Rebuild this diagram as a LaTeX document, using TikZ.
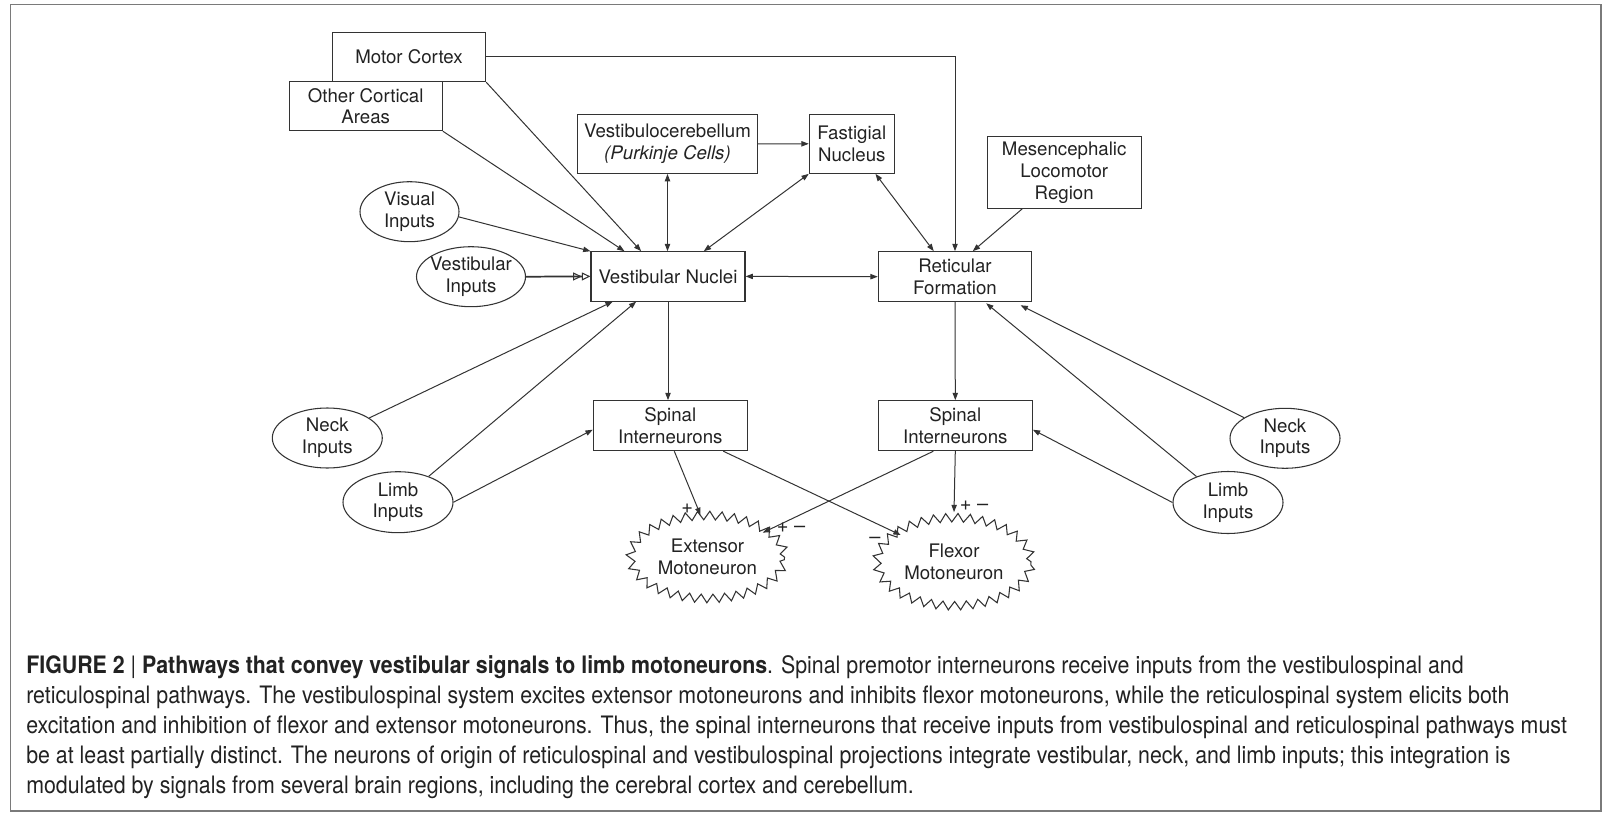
\documentclass[tikz,border=0pt]{standalone}
\usepackage{fontspec}
\setmainfont{TeX Gyre Heros}
\newfontfamily\capfont[FakeStretch=0.89]{TeX Gyre Heros}
\usetikzlibrary{arrows.meta,shapes.geometric,decorations.pathmorphing,calc}
\definecolor{ln}{HTML}{333333}
\definecolor{frm}{HTML}{7A7A7A}
\definecolor{tx}{HTML}{222222}
\tikzset{
  sz/.style 2 args={minimum width=#1*0.75pt, minimum height=#2*0.75pt},
  box/.style={draw=ln, line width=0.8pt, rectangle},
  oval/.style={draw=ln, line width=0.8pt, ellipse, inner sep=-6pt},
  burst/.style={draw=ln, line width=0.8pt, ellipse, decorate, decoration={zigzag, segment length=9pt, amplitude=3.2pt}},
  conn/.style={draw=ln, line width=0.75pt, -{Triangle[length=5.5pt,width=4pt]}},
  both/.style={draw=ln, line width=0.75pt, {Triangle[length=5.5pt,width=4pt]}-{Triangle[length=5.5pt,width=4pt]}},
  dbl/.style={draw=ln, line width=1.3pt, -{Triangle[open,length=6.5pt,width=6pt,line width=0.8pt]Triangle[open,length=6.5pt,width=6pt,line width=0.8pt]}},
  sign/.style={font=\fontsize{15}{15}\selectfont},
  captext/.style={font=\capfont\fontsize{18}{22}\selectfont, anchor=base west, align=left},
}
\begin{document}
\begin{tikzpicture}[x=0.75pt,y=-0.75pt,
  every node/.style={font=\fontsize{14}{16.3}\selectfont, text=tx, align=center, inner sep=0pt}]
\useasboundingbox (0,0) rectangle (1616,824);
\draw[frm, line width=1.2pt] (10.5,4.5) rectangle (1601,811);

% boxes
\node[box, sz={153.4}{49.4}] (mc) at (409,57) {Motor Cortex};
\node[box, sz={153.3}{49}] (oca) at (365.7,106.2) {Other Cortical\\Areas};
\node[box, sz={180}{59}] (vc) at (667.5,143.9) {Vestibulocerebellum\\\textit{(Purkinje Cells)}};
\node[box, sz={85}{59}] (fn) at (851.8,143.8) {Fastigial\\Nucleus};
\node[box, sz={153.7}{71.6}] (mlr) at (1064.2,172.5) {Mesencephalic\\Locomotor\\Region};
\node[box, sz={154}{49.3}] (vn) at (668,276.4) {Vestibular Nuclei};
\node[box, sz={153.4}{50}] (rf) at (955,276.7) {Reticular\\Formation};
\node[box, sz={154}{50}] (spl) at (670.3,425.7) {Spinal\\Interneurons};
\node[box, sz={154}{50}] (spr) at (955.3,425.7) {Spinal\\Interneurons};

% ovals
\node[oval, sz={99}{60}] (vis) at (409.5,211.7) {Visual\\Inputs};
\node[oval, sz={109}{60}] (vin) at (471,276.7) {Vestibular\\Inputs};
\node[oval, sz={110}{60}] (nl) at (327.3,438) {Neck\\Inputs};
\node[oval, sz={110}{61}] (ll) at (398,502.2) {Limb\\Inputs};
\node[oval, sz={110}{60}] (nr) at (1285,438.3) {Neck\\Inputs};
\node[oval, sz={110}{62}] (lr) at (1228,502.5) {Limb\\Inputs};

% motoneurons
\node[burst, sz={154}{83}] (ext) at (707.5,557) {Extensor\\Motoneuron};
\node[burst, sz={154}{88}] (flex) at (954,561.7) {Flexor\\Motoneuron};

% connectors
\draw[conn] (mc.south east) -- ($(vn.north west)+(50.7,0)$);
\draw[conn] (oca.south east) -- ($(vn.north west)+(34,0)$);
\draw[conn] (mc.east) -| (rf.north);
\draw[both] (vc.south) -- (vc.south |- vn.north);
\draw[conn] (vc.east) -- (fn.west);
\draw[both] (fn.south west) -- ($(vn.north west)+(113.3,0)$);
\draw[both] ($(fn.south west)+(66.7,0)$) -- ($(rf.north west)+(56,0)$);
\draw[conn] ($(mlr.south west)+(35.4,0)$) -- ($(rf.north west)+(95,0)$);
\draw[both] (vn.east) -- (rf.west);
\draw[conn] (vis.-6) -- (vn.north west);
\draw[dbl] (vin.east) -- (vn.west);
\draw[conn] (nl) -- ($(vn.south west)+(22.3,0)$);
\draw[conn] (ll) -- ($(vn.south west)+(45.7,0)$);
\draw[conn] (ll.east) -- ($(spl.west)+(0,4)$);
\draw[conn] (vn.south) -- (vn.south |- spl.north);
\draw[conn] (rf.south) -- (spr.north);
\draw[conn] (nr) -- ($(rf.south east)+(-11.7,3)$);
\draw[conn] (lr) -- ($(rf.south west)+(108.4,1)$);
\draw[conn] (lr.west) -- ($(spr.east)+(0,4)$);
\draw[conn] ($(spl.south)+(4,0)$) -- ($(ext.north)+(-7,0)$);
\draw[conn] ($(spl.south)+(53,0)$) -- ($(flex.center)+(-53.3,-26.7)$);
\draw[conn] ($(spr.south)+(-22,0)$) -- ($(ext.center)+(55.2,-24.3)$);
\draw[conn] (spr.south) -- ($(flex.north)+(0,-5)$);

% signs
\node[sign] (s1) at (687.3,508.3) {+};
\node[sign] (s2) at (791,527.7) {+ –};
\node[sign] (s3) at (875,540) {–};
\node[sign] (s4) at (974,506) {+ –};

% caption
\node[captext] (c1) at (26,673) {\textbf{FIGURE 2} | \textbf{Pathways that convey vestibular signals to limb motoneurons}. Spinal premotor interneurons receive inputs from the vestibulospinal and};
\node[captext] (c2) at (26,703) {reticulospinal pathways. The vestibulospinal system excites extensor motoneurons and inhibits flexor motoneurons, while the reticulospinal system elicits both};
\node[captext] (c3) at (26,733) {excitation and inhibition of flexor and extensor motoneurons. Thus, the spinal interneurons that receive inputs from vestibulospinal and reticulospinal pathways must};
\node[captext] (c4) at (26,763) {be at least partially distinct. The neurons of origin of reticulospinal and vestibulospinal projections integrate vestibular, neck, and limb inputs; this integration is};
\node[captext] (c5) at (26,793) {modulated by signals from several brain regions, including the cerebral cortex and cerebellum.};
\end{tikzpicture}
\end{document}
